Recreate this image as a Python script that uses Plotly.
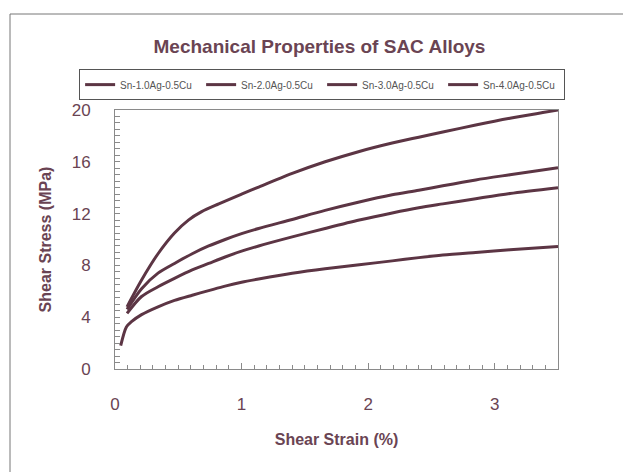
import plotly.graph_objects as go

series_names = ["Sn-1.0Ag-0.5Cu", "Sn-2.0Ag-0.5Cu", "Sn-3.0Ag-0.5Cu", "Sn-4.0Ag-0.5Cu"]

x_10 = [0.045, 0.09, 0.13, 0.21, 0.34, 0.47, 0.61, 0.74, 0.87, 1.0, 1.135, 1.40, 1.66, 1.93, 2.19, 2.40, 2.59, 2.85, 3.12, 3.5]
y_10 = [1.8, 3.25, 3.65, 4.2, 4.8, 5.3, 5.7, 6.05, 6.4, 6.7, 6.95, 7.4, 7.75, 8.05, 8.35, 8.6, 8.8, 9.0, 9.2, 9.45]

x_20 = [0.095, 0.21, 0.34, 0.47, 0.61, 0.74, 0.87, 1.0, 1.135, 1.40, 1.66, 1.93, 2.19, 2.40, 2.59, 2.85, 3.12, 3.5]
y_20 = [4.3, 5.6, 6.35, 7.0, 7.65, 8.15, 8.65, 9.1, 9.5, 10.2, 10.85, 11.5, 12.05, 12.45, 12.75, 13.15, 13.55, 14.0]

x_30 = [0.095, 0.21, 0.34, 0.47, 0.61, 0.74, 0.87, 1.0, 1.135, 1.40, 1.66, 1.93, 2.19, 2.40, 2.59, 2.85, 3.12, 3.5]
y_30 = [4.6, 6.2, 7.4, 8.15, 8.9, 9.5, 10.0, 10.45, 10.85, 11.55, 12.25, 12.9, 13.45, 13.8, 14.15, 14.6, 15.0, 15.55]

x_40 = [0.095, 0.21, 0.34, 0.47, 0.58, 0.685, 0.82, 1.0, 1.135, 1.40, 1.66, 1.93, 2.19, 2.40, 2.59, 2.85, 3.12, 3.38, 3.5]
y_40 = [4.8, 6.87, 8.9, 10.5, 11.5, 12.15, 12.75, 13.5, 14.05, 15.1, 16.0, 16.8, 17.45, 17.9, 18.3, 18.84, 19.36, 19.8, 20.0]

xs = [x_10, x_20, x_30, x_40]
ys = [y_10, y_20, y_30, y_40]

x_ticks = [0, 1, 2, 3]
y_ticks = [0, 4, 8, 12, 16, 20]

line_color = "#5c3544"
text_color = "#6a4453"
axis_color = "#8a8a8a"

fig = go.Figure()
for name, x, y in zip(series_names, xs, ys):
    fig.add_trace(go.Scatter(x=x, y=y, mode="lines", name=name,
                             line=dict(color=line_color, width=3, shape="spline", smoothing=0.8)))

# page body has an 8px margin, so the figure is 8px smaller than the window
fig.update_layout(
    width=623, height=464,
    paper_bgcolor="white", plot_bgcolor="white",
    margin=dict(l=107, r=73, t=102, b=103),
    font=dict(family="Liberation Sans, Arial", color=text_color),
    title=dict(text="<b>Mechanical Properties of SAC Alloys</b>",
               x=0.5, xanchor="center", y=1 - 38 / 464, yanchor="middle",
               font=dict(size=19, color=text_color)),
    showlegend=True,
    legend=dict(orientation="h", x=-0.081, y=1.098, xanchor="left", yanchor="middle",
                bordercolor="#555555", borderwidth=1, bgcolor="white",
                font=dict(size=10, color="#555555"),
                entrywidth=76, entrywidthmode="pixels",
                itemwidth=30, tracegroupgap=0),
    xaxis=dict(range=[0, 3.5], tickvals=x_ticks, ticktext=[str(v) for v in x_ticks],
               ticks="inside", ticklen=6, tickcolor=axis_color,
               minor=dict(dtick=0.1, ticks="inside", ticklen=4, tickcolor=axis_color),
               showline=True, linecolor=axis_color, linewidth=1, mirror=True,
               showgrid=False, zeroline=False, ticklabelstandoff=20,
               tickfont=dict(size=17, color=text_color),
               title=dict(text="<b>Shear Strain (%)</b>", font=dict(size=16, color=text_color),
                          standoff=20)),
    yaxis=dict(range=[0, 20], tickvals=y_ticks, ticktext=[str(v) for v in y_ticks],
               ticks="inside", ticklen=5, tickcolor=axis_color,
               minor=dict(dtick=0.5, ticks="inside", ticklen=5, tickcolor=axis_color),
               showline=True, linecolor=axis_color, linewidth=1, mirror=True,
               showgrid=False, zeroline=False, ticklabelstandoff=20,
               tickfont=dict(size=17, color=text_color),
               title=dict(text="<b>Shear Stress (MPa)</b>", font=dict(size=16, color=text_color),
                          standoff=16)),
)

# Outer chart-area frame (top and left edges visible)
fig.add_shape(type="rect", xref="paper", yref="paper",
              x0=(10 - 115) / 443, x1=1.5, y0=-1.0, y1=(369 - 14) / 259,
              line=dict(color="#777777", width=1), fillcolor="rgba(0,0,0,0)", layer="below")

fig.write_html("out.html")
